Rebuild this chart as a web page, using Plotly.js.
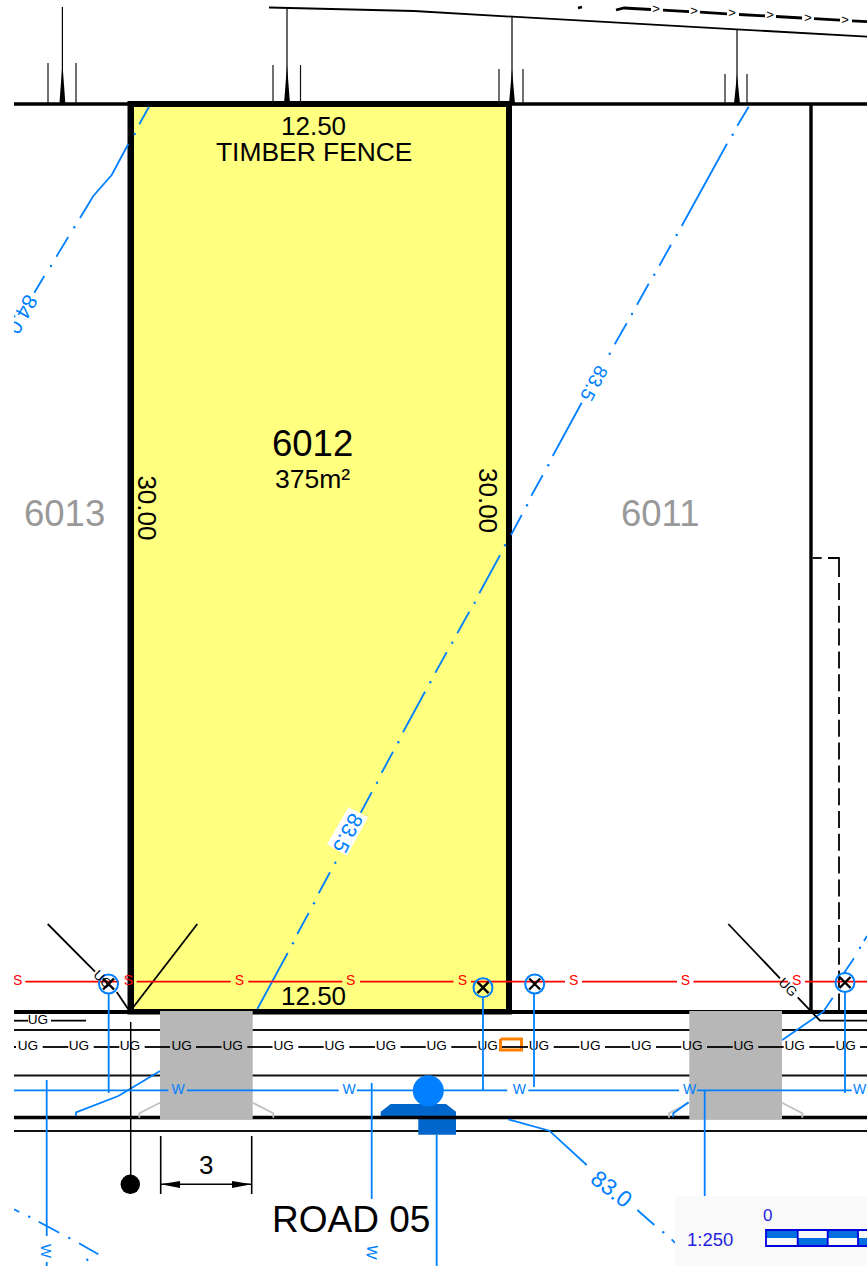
<!DOCTYPE html>
<html>
<head>
<meta charset="utf-8">
<script src="https://cdn.plot.ly/plotly-3.0.1.min.js"></script>
<style>
html,body{margin:0;padding:0;background:#fff}
#plot{width:867px;height:1266px}
#edge{position:absolute;left:0;top:0;width:14px;height:1266px;background:#fff;z-index:10}
</style>
</head>
<body>
<div id="plot"></div>
<div id="edge"></div>
<script>
// ---- colours
const BLUE='#0080ff', DARKBLUE='#0066cc', GREY='#b7b7b7', FLARE='#c0c0c0', RED='#ff0000', FENCE='#ffff80', LABEL='#999999', SCALE='#1f1fdd';

// ---- lot 6012
const lotOuterX=[127.5,512,512,127.5,127.5], lotOuterY=[101,101,1014.5,1014.5,101];
const lotInnerX=[134,506,506,134,134], lotInnerY=[107,107,1009,1009,107];

// ---- boundaries and road lines
const boundaryX=[14,867,null,811,811], boundaryY=[104,104,null,104,1012];
const frontageX=[14,867], frontageY=[1012,1012];
const thinRoadX=[14,867,null,14,867,null,14,867], thinRoadY=[1030,1030,null,1075.5,1075.5,null,1131,1131];
const kerbX=[14,867], kerbY=[1117.5,1117.5];
const envCornerX=[812.7,821.7,null,828,839,839], envCornerY=[558,558,null,558,558,577];
const envDashX=[839,839], envDashY=[583,1010];

// ---- fence posts on the top boundary
const postX=[62.4,62.4,null,287,287,null,512,512,null,737,737], postY=[7,104,null,8,104,null,17,104,null,29,104];
const postSideX=[48,48,null,76,76,null,273,273,null,300.5,300.5,null,499,499,null,523,523,null,725,725,null,747,747];
const postSideY=[63,104,null,63,104,null,65,104,null,65,104,null,69,104,null,69,104,null,74,104,null,74,104];
const spikeX=[59.4,62.4,65.4,59.4,null,284,287,290,284,null,509,512,515,509,null,734,737,740,734];
const spikeY=[104,63,104,104,null,104,65,104,104,null,104,69,104,104,null,104,74,104,104];
const topCurveX=[269,414,512,736.5,867], topCurveY=[7.5,11,16.7,29.3,36.7];
const arrowLineX=[578,582,null,616,624,651,null,663,689,null,700,727,null,739,765,null,776,802,null,814,840,null,852,867];
const arrowLineY=[8,7,null,10,8,9.5,null,10.2,11.6,null,12.2,13.8,null,14.5,15.9,null,16.5,18,null,18.7,20.2,null,20.8,21.7];
const arrowHeadX=[656,694,732,770,808,845], arrowHeadY=[9.8,11.9,14,16.2,18.4,20.4];

// ---- contours
const c835X=[748.7,737.3,null,727,681.7,null,671,659.3,null,648.7,637,null,626.7,614.7,null,581.7,552.7,null,542.7,531.3,null,521.7,511,null,500,479.3,null,469.3,457.3,null,446.7,435.3,null,425,403,null,393,381.7,null,371.7,360.7,null,330,318.7,null,308.7,297.3,null,287.7,257.3];
const c835Y=[106.7,125.7,null,143.7,226,null,244.7,265.7,null,283.7,304.7,null,323.3,344.3,null,402.7,456,null,475.3,495.7,null,515,535,null,555.3,593.3,null,611.7,633.3,null,652.3,672.7,null,691.7,732.3,null,751.7,772.7,null,792.3,812.7,null,872.3,893.3,null,913,934,null,953,1009];
const c835DotX=[732.7,676.7,654.3,632,609.7,548.3,527,505,474.7,452.3,430.3,398.3,377,335.3,314,293];
const c835DotY=[134.7,235,274.7,314,353.7,465.3,505.3,545.3,602.7,642.7,682.3,742.3,782.7,862.7,903.3,943.3];
const c840X=[149,139.3,null,128.3,111.7,93.3,80,null,68.3,56.3,null,44.3,34.3];
const c840Y=[106.7,124.3,null,144,175,196,218,null,237,256.7,null,276,292.7];
const c840DotX=[134.7,74.3,51], c840DotY=[134,227.3,266];
const c830X=[508.3,549.3,586.7,null,637.3,654.3,null,671.7,675];
const c830Y=[1119.3,1130.7,1165,null,1210,1225,null,1239.3,1243];
const c830DotX=[663.3], c830DotY=[1232.3];
const c825X=[14,19.3,null,38.7,59.3,null,79,98.3], c825Y=[1209.3,1212,null,1221.7,1232.7,null,1243.3,1254.3];
const c825DotX=[29.3,69.3,87.3], c825DotY=[1216.7,1238,1259.7];
const drivewayContourX=[76,76,118.3,160,null,673.3,673.3,688.5,null,782.3,823.3,832.7,null,843.3,854,null,864,867];
const drivewayContourY=[1116,1112.3,1096,1071,null,1117,1113.3,1102.3,null,1040,1011.7,997.7,null,974,958.3,null,941,936];
const drivewayDotX=[860], drivewayDotY=[947.7];
const labelBoxX=[348.3,368,347,327,348.3], labelBoxY=[807.3,817.3,855.7,844.3,807.3];

// ---- driveways
const drive1X=[160,252.7,252.7,160,160], drive1Y=[1011,1011,1119,1119,1011];
const drive2X=[689.3,782,782,689.3,689.3], drive2Y=[1011,1011,1119,1119,1011];
const flareX=[139.3,139.3,160,null,252.7,273.3,273.3,null,669,669,689.3,null,782,802.3,802.3];
const flareY=[1117.7,1113.3,1102.7,null,1102.7,1113.3,1117.7,null,1117.7,1113.3,1102.7,null,1102.7,1113.3,1117.7];

// ---- services
const sewerLabelX=[17.7,128.3,239.3,350.7,462.3,573.7,685.3,796.7];
const sewerY=981.6;
const sewerX=[25.3,119,null,136.7,230.7,null,248.3,342.3,null,360,453.5,null,471,565,null,582,677,null,693.5,788,null,805,867];
const sewerLineY=[sewerY,sewerY,null,sewerY,sewerY,null,sewerY,sewerY,null,sewerY,sewerY,null,sewerY,sewerY,null,sewerY,sewerY,null,sewerY,sewerY,null,sewerY,sewerY];
const ugLabelX=[28,79,130,181.7,232.7,283.7,334.7,386,436.7,487.7,539,590.3,641.3,692.3,743.7,794.7,845.7];
const ugY=1047;
const ugLineX=[14,16,null,42.7,68.3,null,93.7,119.3,null,144.7,170,null,196,221.5,null,247.3,272.5,null,298.3,323.7,null,349.3,375,null,400.5,425.7,null,451.3,476.7,null,502,528,null,553.7,579.3,null,605,630.3,null,656,681.3,null,707,732.7,null,758.3,783.7,null,809.3,834.7,null,860,867];
const ugLineY=ugLineX.map(v=>v===null?null:ugY);
const ugShortX=[14,28,null,51,86], ugShortY=[1020.7,1020.7,null,1020.7,1020.7];
const ugShortLabelX=[38], ugShortLabelY=[1020.7];
const waterLabelX=[178,349,519.3,689.7,859.7];
const waterY=1090.3;
const waterX=[14,168.3,null,187,338.7,null,356.7,507.3,null,528.3,679,null,697,851.7];
const waterLineY=[waterY,waterY,null,waterY,waterY,null,waterY,waterY,null,waterY,waterY,null,waterY,waterY];
const serviceX=[108.7,108.7,null,483,483,null,534,534,null,845,845,null,704.7,704.7,null,46.7,46.7,null,46.7,46.7,null,371.7,371.7,null,436.7,436.7];
const serviceY=[993,1093,null,997,1090,null,993,1087,null,992,1093,null,1090,1196,null,1080,1236,null,1262,1266,null,1083,1199,null,1135,1266];
const valveX=[108.5,483,534.7,845], valveY=[984,987.7,984,982.5];
const hydrantCircleX=[428.3], hydrantCircleY=[1090.7];
const hydrantBodyX=[380.7,390.7,446,456,456,418.3,418.3,380.7,380.7], hydrantBodyY=[1111.7,1104,1104,1111.7,1134.7,1134.7,1116,1116,1111.7];
const pitX=[500.5,521.5,521.5,500.5,500.5], pitY=[1039,1039,1050,1050,1039];

// ---- black construction lines
const diagonalX=[47.7,95,null,116.7,128.3,null,131.7,197.3,null,728.3,780,null,797.7,820,867];
const diagonalY=[924,971.7,null,992,1009.3,null,1009.3,924,null,924,978.3,null,997.3,1020.7,1020.7];
const poleX=[130.7,130.7], poleY=[1022,1184];
const poleDotX=[130.3], poleDotY=[1184.3];
const dimX=[160.7,160.7,null,251.7,251.7,null,160.7,251.7], dimY=[1136,1194,null,1136,1194,null,1184.3,1184.3];
const dimHeadX=[160.7,180,180,160.7,null,251.7,232,232,251.7], dimHeadY=[1184.3,1181,1188,1184.3,null,1184.3,1181,1188,1184.3];

// ---- scale panel
const panelX=[675,867,867,675,675], panelY=[1196,1196,1266,1266,1196];
const barBlueX=[766,797.7,797.7,766,766,null,797.7,827.7,827.7,797.7,797.7,null,827.7,858,858,827.7,827.7,null,858,867,867,858,858];
const barBlueY=[1230,1230,1238,1238,1230,null,1238,1238,1246,1246,1238,null,1230,1230,1238,1238,1230,null,1238,1238,1246,1246,1238];
const barFrameX=[867,766,766,867,null,797.7,797.7,null,827.7,827.7,null,858,858];
const barFrameY=[1230,1230,1246,1246,null,1230,1246,null,1230,1246,null,1230,1246];

// ---- text labels
const labelText=['12.50','TIMBER FENCE','6012','375m²','30.00','30.00','12.50','6013','6011','3','ROAD 05','83.5','83.5','84.0','83.0','UG','UG','W','W','1:250','0'];
const labelX=[313,314,312,312,147.3,488,313,64.5,660,206,351,594.3,348.3,22.7,611.7,103,788.3,47,372.7,709.5,767.7];
const labelY=[126,152,443,479,507.7,500,995.7,513,513,1165,1219,383.3,833.3,315,1189.3,979,987.3,1251,1253,1239,1215.7];
const labelSize=[26,26.4,36.5,26.5,26,26,26,36.5,36.5,26,37,19,21,21,23,13.3,13.3,15,15,18.5,17];
const labelAngle=[0,0,0,0,90,90,0,0,0,0,0,118,117,120,38,45,45,90,95,0,0];
const labelColor=['#000','#000','#000','#000','#000','#000','#000',LABEL,LABEL,'#000','#000',BLUE,BLUE,BLUE,BLUE,'#000','#000',BLUE,BLUE,SCALE,SCALE];

const FONT='"Liberation Sans", Arial, sans-serif';
const line=(x,y,color,width,dash)=>({type:'scatter',mode:'lines',x,y,connectgaps:false,hoverinfo:'skip',line:{color,width,dash:dash||'solid',simplify:false}});
const fill=(x,y,color)=>({type:'scatter',mode:'lines',x,y,fill:'toself',fillcolor:color,hoverinfo:'skip',line:{width:0,color}});
const dots=(x,y,color,size)=>({type:'scatter',mode:'markers',x,y,hoverinfo:'skip',marker:{color,size,symbol:'circle',line:{width:0}}});
const words=(x,y,text,color,size)=>({type:'scatter',mode:'text',x,y,text:x.map(()=>text),hoverinfo:'skip',textposition:'middle center',textfont:{family:FONT,size,color}});

const traces=[
  fill(lotOuterX,lotOuterY,'#000'),
  fill(lotInnerX,lotInnerY,FENCE),
  line(boundaryX,boundaryY,'#000',3.4),
  line(thinRoadX,thinRoadY,'#111',1.8),
  line(envCornerX,envCornerY,'#000',1.8),
  line(envDashX,envDashY,'#000',1.8,'17px,5.8px'),
  line(topCurveX,topCurveY,'#000',1.8),
  line(arrowLineX,arrowLineY,'#000',2.8),
  words(arrowHeadX,arrowHeadY,'>','#000',13),
  line(postX,postY,'#000',1.2),
  line(postSideX,postSideY,'#111',1.2),
  fill(spikeX,spikeY,'#000'),
  fill(hydrantBodyX,hydrantBodyY,DARKBLUE),
  line(frontageX,frontageY,'#000',4.2),
  line(kerbX,kerbY,'#000',3.6),
  line(flareX,flareY,FLARE,1.8),
  fill(drive1X,drive1Y,GREY),
  fill(drive2X,drive2Y,GREY),
  fill(labelBoxX,labelBoxY,'#ffffff'),
  line(c835X,c835Y,BLUE,1.8),
  dots(c835DotX,c835DotY,BLUE,2.4),
  line(c840X,c840Y,BLUE,1.8),
  dots(c840DotX,c840DotY,BLUE,2.4),
  line(c830X,c830Y,BLUE,1.8),
  dots(c830DotX,c830DotY,BLUE,2.4),
  line(c825X,c825Y,BLUE,1.8),
  dots(c825DotX,c825DotY,BLUE,2.4),
  line(drivewayContourX,drivewayContourY,BLUE,1.8),
  dots(drivewayDotX,drivewayDotY,BLUE,2.4),
  line(diagonalX,diagonalY,'#000',1.8),
  line(poleX,poleY,'#000',1.5),
  dots(poleDotX,poleDotY,'#000',19.4),
  line(dimX,dimY,'#000',1.6),
  fill(dimHeadX,dimHeadY,'#000'),
  line(sewerX,sewerLineY,RED,1.8),
  words(sewerLabelX,sewerLabelX.map(()=>sewerY),'S',RED,14),
  fill(pitX,pitY,'#ffffff'),
  line(pitX,pitY,'#ff8000',3),
  line(ugLineX,ugLineY,'#000',1.8),
  line(ugShortX,ugShortY,'#000',1.8),
  words(ugLabelX,ugLabelX.map(()=>ugY),'UG','#000',13.6),
  words(ugShortLabelX,ugShortLabelY,'UG','#000',13.6),
  line(waterX,waterLineY,BLUE,1.8),
  line(serviceX,serviceY,BLUE,1.8),
  words(waterLabelX,waterLabelX.map(()=>waterY),'W',BLUE,14),
  {type:'scatter',mode:'markers',x:valveX,y:valveY,hoverinfo:'skip',marker:{size:19,symbol:'circle-open',color:BLUE,line:{width:2,color:BLUE}}},
  {type:'scatter',mode:'markers',x:valveX,y:valveY,hoverinfo:'skip',marker:{size:11,symbol:'x-thin-open',color:'#000',line:{width:2.4,color:'#000'}}},
  dots(hydrantCircleX,hydrantCircleY,BLUE,31),
  fill(panelX,panelY,'#fafafa'),
  fill(barBlueX,barBlueY,'#0070e0'),
  line(barFrameX,barFrameY,'#0000dd',1.8),
];

const annotations=labelText.map((text,i)=>({
  text,x:labelX[i],y:labelY[i],xref:'x',yref:'y',showarrow:false,xanchor:'center',yanchor:'middle',
  textangle:labelAngle[i],font:{family:FONT,size:labelSize[i],color:labelColor[i]},borderpad:0,borderwidth:0
}));

const layout={
  width:867,height:1266,margin:{l:0,r:0,t:0,b:0,pad:0},showlegend:false,
  paper_bgcolor:'#ffffff',plot_bgcolor:'#ffffff',annotations,
  xaxis:{range:[0,867],visible:false,fixedrange:true},
  yaxis:{range:[1266,0],visible:false,fixedrange:true},
};
Plotly.newPlot('plot',traces,layout,{displayModeBar:false,staticPlot:true});
</script>
</body>
</html>
